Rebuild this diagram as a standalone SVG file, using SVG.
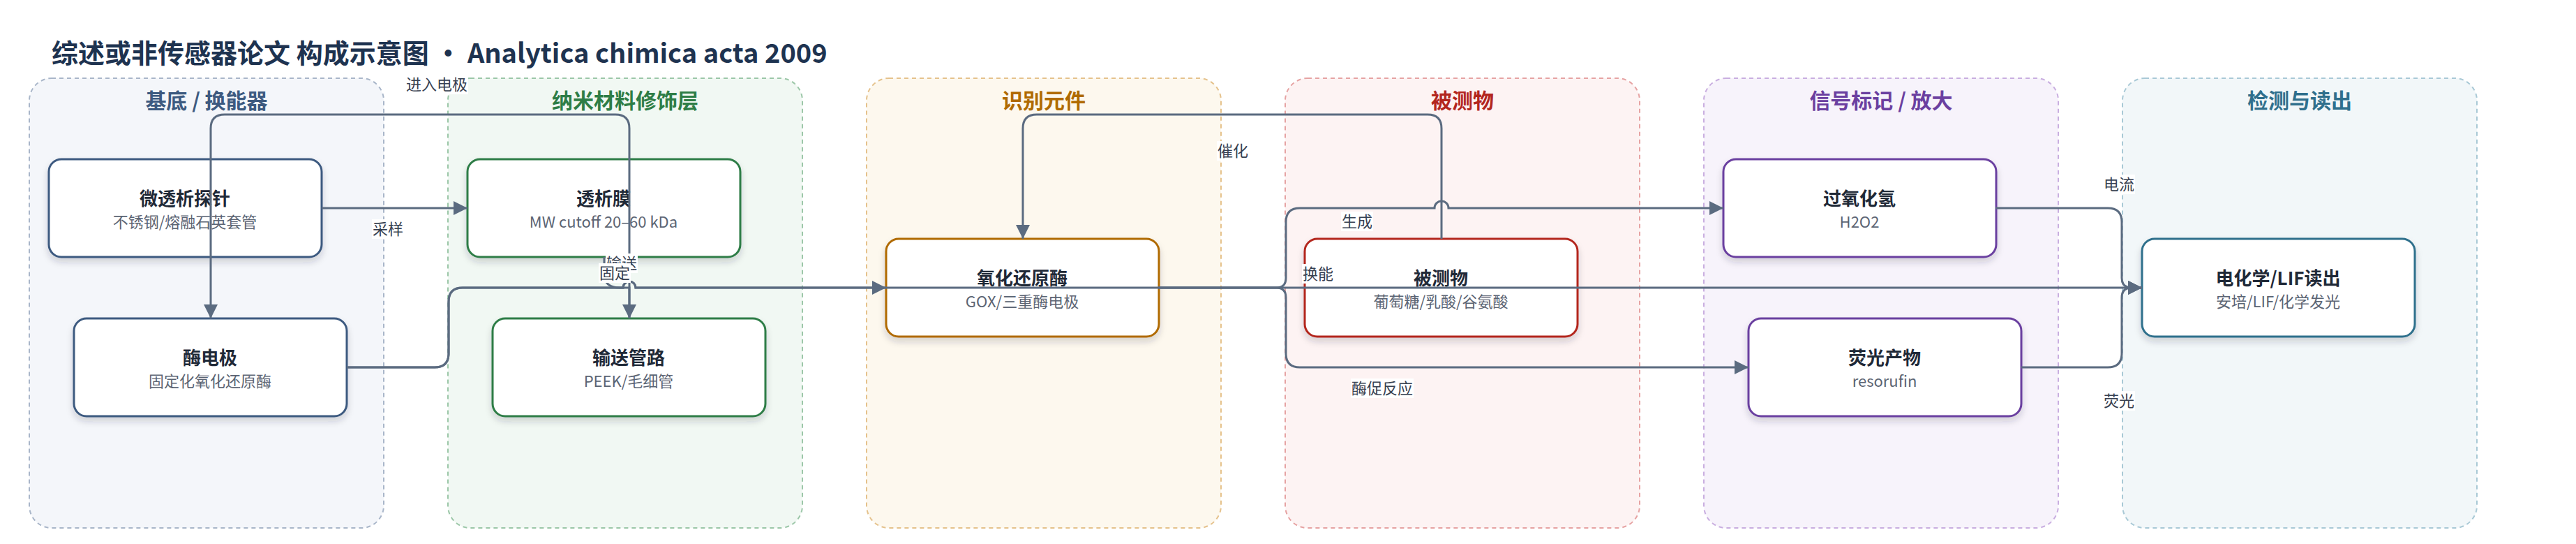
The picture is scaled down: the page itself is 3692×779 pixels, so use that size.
<svg xmlns="http://www.w3.org/2000/svg" width="3692" height="779" viewBox="0 0 3692 779">
<style>
text{font-family:"Noto Sans CJK SC","Noto Sans",sans-serif;}
.title{font-size:38px;font-weight:700;fill:#1e3350;}
.gt{font-size:30px;font-weight:700;text-anchor:middle;}
.grp{stroke-width:2;stroke-dasharray:6 5;}
.node{fill:#ffffff;stroke-width:3;filter:url(#sh);}
.nt{font-size:26px;font-weight:700;fill:#1f2937;text-anchor:middle;}
.ns{font-size:22px;fill:#5b6473;text-anchor:middle;}
.edge{fill:none;stroke:#5b6b80;stroke-width:3;}
.lbg{fill:#ffffff;}
.lt{font-size:22px;fill:#374151;text-anchor:middle;}
</style>
<defs>
<filter id="sh" x="-10%" y="-20%" width="120%" height="150%">
<feDropShadow dx="0" dy="6" stdDeviation="5" flood-color="#1f2937" flood-opacity="0.18"/>
</filter>
<marker id="arr" markerUnits="userSpaceOnUse" viewBox="0 0 20 20" markerWidth="20" markerHeight="20" refX="20" refY="10" orient="auto">
<path d="M0,0 L20,10 L0,20 z" fill="#5b6b80"/>
</marker>
</defs>
<rect width="3692" height="779" fill="#ffffff"/>
<text class="title" x="74" y="90">综述或非传感器论文 构成示意图 · Analytica chimica acta 2009</text>

<g id="group-substrate">
<rect class="grp" x="42" y="112" width="508" height="644" rx="32" fill="#f4f6fa" stroke="#a9b6c9"/>
<text class="gt" x="296" y="155" fill="#3d5a80">基底 / 换能器</text>
</g>
<g id="group-nano">
<rect class="grp" x="642" y="112" width="508" height="644" rx="32" fill="#f1f8f3" stroke="#9cc7a8"/>
<text class="gt" x="896" y="155" fill="#2e7d46">纳米材料修饰层</text>
</g>
<g id="group-recognition">
<rect class="grp" x="1242" y="112" width="508" height="644" rx="32" fill="#fdf8ee" stroke="#e5c28c"/>
<text class="gt" x="1496" y="155" fill="#b06a00">识别元件</text>
</g>
<g id="group-analyte">
<rect class="grp" x="1842" y="112" width="508" height="644" rx="32" fill="#fdf3f3" stroke="#e6a3a3"/>
<text class="gt" x="2096" y="155" fill="#b3261e">被测物</text>
</g>
<g id="group-signal">
<rect class="grp" x="2442" y="112" width="508" height="644" rx="32" fill="#f7f3fb" stroke="#c9aee0"/>
<text class="gt" x="2696" y="155" fill="#6b3fa0">信号标记 / 放大</text>
</g>
<g id="group-readout">
<rect class="grp" x="3042" y="112" width="508" height="644" rx="32" fill="#f2f7f9" stroke="#a9c9d6"/>
<text class="gt" x="3296" y="155" fill="#2f6f8c">检测与读出</text>
</g>

<g id="node-probe">
<rect class="node" x="70" y="228" width="391" height="140" rx="18" stroke="#3d5a80"/>
<text class="nt" x="265" y="294">微透析探针</text>
<text class="ns" x="265" y="326">不锈钢/熔融石英套管</text>
</g>
<g id="node-enzyme-electrode">
<rect class="node" x="106" y="456" width="391" height="140" rx="18" stroke="#3d5a80"/>
<text class="nt" x="301" y="522">酶电极</text>
<text class="ns" x="301" y="554">固定化氧化还原酶</text>
</g>
<g id="node-membrane">
<rect class="node" x="670" y="228" width="391" height="140" rx="18" stroke="#2e7d46"/>
<text class="nt" x="865" y="294">透析膜</text>
<text class="ns" x="865" y="326">MW cutoff 20–60 kDa</text>
</g>
<g id="node-tubing">
<rect class="node" x="706" y="456" width="391" height="140" rx="18" stroke="#2e7d46"/>
<text class="nt" x="901" y="522">输送管路</text>
<text class="ns" x="901" y="554">PEEK/毛细管</text>
</g>
<g id="node-oxidoreductase">
<rect class="node" x="1270" y="342" width="391" height="140" rx="18" stroke="#b06a00"/>
<text class="nt" x="1465" y="408">氧化还原酶</text>
<text class="ns" x="1465" y="440">GOX/三重酶电极</text>
</g>
<g id="node-analyte">
<rect class="node" x="1870" y="342" width="391" height="140" rx="18" stroke="#b3261e"/>
<text class="nt" x="2065" y="408">被测物</text>
<text class="ns" x="2065" y="440">葡萄糖/乳酸/谷氨酸</text>
</g>
<g id="node-h2o2">
<rect class="node" x="2470" y="228" width="391" height="140" rx="18" stroke="#6b3fa0"/>
<text class="nt" x="2665" y="294">过氧化氢</text>
<text class="ns" x="2665" y="326">H2O2</text>
</g>
<g id="node-fluor">
<rect class="node" x="2506" y="456" width="391" height="140" rx="18" stroke="#6b3fa0"/>
<text class="nt" x="2701" y="522">荧光产物</text>
<text class="ns" x="2701" y="554">resorufin</text>
</g>
<g id="node-readout">
<rect class="node" x="3070" y="342" width="391" height="140" rx="18" stroke="#2f6f8c"/>
<text class="nt" x="3265" y="408">电化学/LIF读出</text>
<text class="ns" x="3265" y="440">安培/LIF/化学发光</text>
</g>

<g id="connectors">
<path class="edge" d="M461 298 H670" marker-end="url(#arr)"/>
<path class="edge" d="M902 455 V184 Q902 164 882 164 H322 Q302 164 302 184 V456" marker-end="url(#arr)"/>
<path class="edge" d="M866 368 V392 Q866 412 888 412 H902 V456" marker-end="url(#arr)"/>
<path class="edge" d="M497 526 H623 Q643 526 643 506 V432 Q643 412 663 412 H893 A9 9 0 0 1 911 412 H1270" marker-end="url(#arr)"/>
<path class="edge" d="M497 526 H623 Q643 526 643 506 V432 Q643 412 663 412 H893 A9 9 0 0 1 911 412 H3070" marker-end="url(#arr)"/>
<path class="edge" d="M2066 342 V184 Q2066 164 2046 164 H1486 Q1466 164 1466 184 V342" marker-end="url(#arr)"/>
<path class="edge" d="M1660 412 H1829 Q1843 412 1843 398 V318 Q1843 298 1863 298 H2056 A10 10 0 0 1 2076 298 H2470" marker-end="url(#arr)"/>
<path class="edge" d="M1660 412 H1829 Q1843 412 1843 426 V506 Q1843 526 1863 526 H2506" marker-end="url(#arr)"/>
<path class="edge" d="M2860 298 H3021 Q3041 298 3041 318 V398 Q3041 412 3055 412 H3070" marker-end="url(#arr)"/>
<path class="edge" d="M2897 526 H3021 Q3041 526 3041 506 V426 Q3041 412 3055 412 H3070" marker-end="url(#arr)"/>

<g id="edge-labels">
<rect class="lbg" x="533" y="314" width="46" height="28"/><text class="lt" x="556" y="336">采样</text>
<rect class="lbg" x="581" y="107" width="90" height="28"/><text class="lt" x="626" y="129">进入电极</text>
<rect class="lbg" x="868" y="363" width="46" height="28"/><text class="lt" x="891" y="385">输送</text>
<rect class="lbg" x="858" y="377" width="46" height="28"/><text class="lt" x="881" y="399">固定</text>
<rect class="lbg" x="1744" y="202" width="46" height="28"/><text class="lt" x="1767" y="224">催化</text>
<rect class="lbg" x="1922" y="303" width="46" height="28"/><text class="lt" x="1945" y="325">生成</text>
<rect class="lbg" x="1866" y="378" width="46" height="28"/><text class="lt" x="1889" y="400">换能</text>
<rect class="lbg" x="1936" y="542" width="90" height="28"/><text class="lt" x="1981" y="564">酶促反应</text>
<rect class="lbg" x="3014" y="250" width="46" height="28"/><text class="lt" x="3037" y="272">电流</text>
<rect class="lbg" x="3014" y="560" width="46" height="28"/><text class="lt" x="3037" y="582">荧光</text>
</g>
</g>
</svg>
